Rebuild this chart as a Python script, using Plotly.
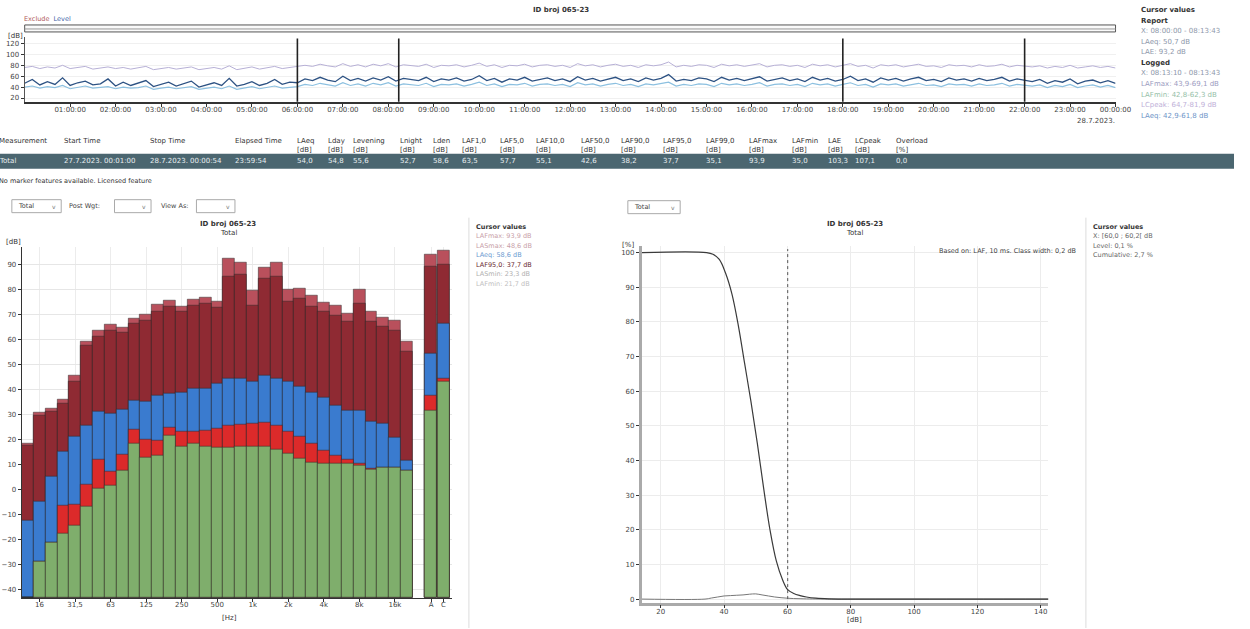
import plotly.graph_objects as go

W, H = 1250, 629
FONT = "DejaVu Sans"

# ---------------- data: time history (10-min steps, 00:00 -> 24:00) ----------------
t_hours = [i / 6 for i in range(145)]
laeq_ts = [47, 54, 44, 50, 45, 57, 43, 48, 51, 44, 46, 55, 42, 49, 43, 47, 52, 41, 45, 49,
           42, 46, 51, 40, 44, 48, 43, 56, 42, 45, 50, 43, 47, 54, 45, 49, 48,
           55, 52, 58, 53, 50, 60, 52, 56, 51, 57, 53, 59, 51, 56, 54, 52, 58, 50, 55, 53,
           57, 51, 54, 61, 52, 56, 49, 55, 53, 58, 51, 54, 57, 52, 55, 50, 59, 53, 56, 51,
           54, 58, 52, 55, 50, 57, 53, 56, 63, 51, 54, 52, 57, 55, 50, 58, 53, 56, 52, 55,
           59, 51, 54, 57, 52, 55, 50, 58, 53, 56, 51, 54, 60, 52, 55, 49, 57, 53, 56, 51,
           55, 58, 52, 54, 50, 57, 53, 55, 51, 56, 52, 54, 58, 51, 55, 53,
           50, 54, 47, 52, 49, 55, 46, 51, 53, 48, 52, 47]
lafmin_ts = [40, 42, 38, 41, 39, 43, 37, 40, 42, 38, 39, 41, 37, 40, 38, 39, 42, 36, 38, 40,
             37, 39, 41, 36, 38, 40, 37, 42, 36, 38, 41, 37, 39, 42, 38, 40, 41,
             45, 43, 47, 44, 42, 48, 43, 46, 42, 47, 44, 48, 42, 46, 45, 43, 47, 41, 45, 44,
             46, 42, 45, 49, 43, 46, 41, 45, 44, 47, 42, 45, 46, 43, 45, 41, 48, 44, 46, 42,
             45, 47, 43, 45, 41, 46, 44, 46, 49, 42, 45, 43, 46, 45, 41, 47, 44, 46, 43, 45,
             48, 42, 45, 46, 43, 45, 41, 47, 44, 46, 42, 45, 48, 43, 45, 40, 46, 44, 46, 42,
             45, 47, 43, 44, 41, 46, 44, 45, 42, 46, 43, 44, 47, 42, 45, 44,
             42, 44, 39, 43, 41, 45, 39, 42, 44, 40, 43, 39]
lafmax_ts = [76, 78, 74, 77, 75, 80, 74, 76, 78, 73, 75, 77, 74, 76, 73, 75, 78, 72, 74, 76,
             73, 75, 77, 72, 74, 76, 73, 79, 72, 74, 77, 73, 75, 78, 74, 76, 77,
             80, 78, 82, 79, 77, 83, 78, 81, 77, 82, 79, 83, 77, 81, 80, 78, 82, 76, 80, 79,
             81, 77, 80, 84, 78, 81, 76, 80, 79, 82, 77, 80, 81, 78, 80, 76, 83, 79, 81, 77,
             80, 82, 78, 80, 76, 81, 79, 81, 86, 77, 80, 78, 81, 80, 76, 82, 79, 81, 78, 80,
             83, 77, 80, 81, 78, 80, 76, 82, 79, 81, 77, 80, 83, 78, 80, 75, 81, 79, 81, 77,
             80, 82, 78, 79, 76, 81, 79, 80, 77, 81, 78, 79, 82, 77, 80, 79,
             77, 79, 75, 78, 76, 80, 75, 77, 79, 76, 78, 75]
marker_times = [6.0, 8.23, 18.0, 22.0]
time_tickvals = list(range(1, 25))
time_ticktext = ["%02d:00:00" % (h % 24) for h in range(1, 25)]

# ---------------- data: 1/3 octave spectrum ----------------
band_labels = ["12,5", "16", "20", "25", "31,5", "40", "50", "63", "80", "100", "125", "160",
               "200", "250", "315", "400", "500", "630", "800", "1k", "1,25k", "1,6k", "2k",
               "2,5k", "3,15k", "4k", "5k", "6,3k", "8k", "10k", "12,5k", "16k", "20k", "A", "C"]
band_x = list(range(33)) + [34.05, 35.1]
spec_max = [18, 30.5, 32, 35.6, 45.2, 58.8, 63.2, 65.6, 64.4, 68, 69.6, 73.6, 75.2, 72.8, 75.6,
            76.4, 74.8, 92.4, 90.8, 79.2, 88.8, 90.8, 79.6, 80, 77.2, 74.4, 73.2, 70, 79.6,
            70.8, 68.4, 67.2, 58.8, 94, 95.6]
spec_l2 = [17.5, 29.5, 31, 34, 43, 57.5, 61, 63.5, 62.5, 66, 67.5, 71, 73, 71, 73.5, 74, 72.5,
           85, 86, 73.5, 84, 85, 75, 76, 73, 71, 69.5, 67, 74, 67, 65, 63.5, 55, 89, 90]
spec_leq = [-12.8, -5.2, 4.8, 14.8, 20.8, 25.2, 30.8, 30, 31.6, 35.2, 34.8, 37.2, 38, 38.4, 40,
            40, 42, 44, 44, 42.8, 45.2, 44, 42.8, 40.8, 38.4, 36.4, 33.2, 31.2, 31.2, 26.8,
            26, 20.5, 11.2, 54, 66]
spec_l95 = [-43.6, -29.2, -21.6, -6.8, -6.4, 1.6, 11.6, 6.8, 13.6, 23.6, 19.6, 19.2, 24.4, 22.8,
            22.8, 23.2, 24, 25.2, 25.6, 26, 26.4, 25.2, 22.8, 20.8, 18, 15.2, 13.2, 11.6, 10,
            8, 8.6, 8.6, 7.5, 37.2, 44]
spec_min = [-43.6, -29.2, -21.6, -18, -14.8, -7.2, 0, 1.2, 7.2, 18, 12.4, 13.2, 21.2, 16.8, 18,
            16.8, 16.4, 16.4, 16.8, 16.8, 16.8, 15.6, 14, 12, 10.4, 10, 10, 10, 9.2, 7.6, 8.4,
            8.4, 7.2, 31.2, 42.8]
spec_tick_idx = [1, 4, 7, 10, 13, 16, 19, 22, 25, 28, 31, 33, 34]
spec_ticktext = ["16", "31,5", "63", "125", "250", "500", "1k", "2k", "4k", "8k", "16k", "A", "C"]
BASE = -43.6

# ---------------- data: statistics ----------------
cum_db = [14.0, 34.5, 36.5, 38.5, 40.5, 42.5, 44.5, 46.5, 48.5, 50.5, 52.5, 54.5, 56.5, 58.5, 60.1,
          62, 64, 66, 69, 73, 76, 142.4]
cum_pct = [100, 100, 99.5, 98, 94, 88, 79, 68, 57, 45, 32, 20, 11, 5.5, 2.7, 1.6, 1.0, 0.6, 0.25, 0.05, 0, 0]
lvl_db = [14.0, 34, 36, 38, 40, 42, 44, 46, 48, 50, 52, 54, 56, 58, 60, 62, 64, 66, 70, 74, 142.4]
lvl_pct = [0, 0, 0.3, 0.6, 0.9, 1.0, 1.1, 1.2, 1.4, 1.5, 1.2, 0.9, 0.6, 0.4, 0.25, 0.15, 0.1, 0.05, 0.02, 0, 0]
cursor_db = 60.1

# ---------------- table ----------------
tbl_head1 = ["Measurement", "Start Time", "Stop Time", "Elapsed Time", "LAeq", "Lday",
             "Levening", "Lnight", "Lden", "LAF1,0", "LAF5,0", "LAF10,0", "LAF50,0", "LAF90,0",
             "LAF95,0", "LAF99,0", "LAFmax", "LAFmin", "LAE", "LCpeak", "Overload"]
tbl_head2 = ["", "", "", "", "[dB]", "[dB]", "[dB]", "[dB]", "[dB]", "[dB]", "[dB]", "[dB]",
             "[dB]", "[dB]", "[dB]", "[dB]", "[dB]", "[dB]", "[dB]", "[dB]", "[%]"]
tbl_vals = ["Total", "27.7.2023. 00:01:00", "28.7.2023. 00:00:54", "23:59:54", "54,0", "54,8",
            "55,6", "52,7", "58,6", "63,5", "57,7", "55,1", "42,6", "38,2", "37,7", "35,1", "93,9",
            "35,0", "103,3", "107,1", "0,0"]
tbl_x = [-3, 63, 150, 236, 299, 330, 356, 403, 437, 466, 504, 541, 587, 627, 670, 713, 757, 800,
         837, 864, 906]


def px(x):
    return x / W


def py(y):
    return 1 - y / H


ann = []
shp = []


def txt(x, y, s, size=7, color="#333", bold=False, anchor="left", yanchor="middle"):
    ann.append(dict(xref="paper", yref="paper", x=px(x), y=py(y),
                    text=("<b>%s</b>" % s) if bold else s, showarrow=False,
                    xanchor=anchor, yanchor=yanchor,
                    font=dict(size=size, color=color, family=FONT)))


def rect(x0, y0, x1, y1, line="#999", fill="rgba(0,0,0,0)", lw=1):
    shp.append(dict(type="rect", xref="paper", yref="paper", x0=px(x0), x1=px(x1),
                    y0=py(y1), y1=py(y0), line=dict(color=line, width=lw), fillcolor=fill,
                    layer="below"))


def vline(x, y0, y1, color="#ccc", lw=1):
    shp.append(dict(type="line", xref="paper", yref="paper", x0=px(x), x1=px(x),
                    y0=py(y1), y1=py(y0), line=dict(color=color, width=lw)))


fig = go.Figure()

# ---- time history ----
fig.add_trace(go.Scatter(x=t_hours, y=lafmax_ts, mode="lines", line=dict(color="#b7b0d6", width=1),
                         xaxis="x", yaxis="y"))
fig.add_trace(go.Scatter(x=t_hours, y=lafmin_ts, mode="lines", line=dict(color="#8cc0e0", width=1.2),
                         xaxis="x", yaxis="y"))
fig.add_trace(go.Scatter(x=t_hours, y=laeq_ts, mode="lines", line=dict(color="#2d5283", width=1.3),
                         xaxis="x", yaxis="y"))
for mt in marker_times:
    shp.append(dict(type="line", xref="x", yref="y", x0=mt, x1=mt, y0=11, y1=129,
                    line=dict(color="#222", width=1.6)))

# ---- spectrum bars (overlaid, drawn from the bottom of the axis) ----
layers = [(spec_max, "#b9505c"), (spec_l2, "#8f2a33"), (spec_leq, "#3a7bcf"),
          (spec_l95, "#dc2a2a"), (spec_min, "#7fae6c")]
for vals, col in layers:
    fig.add_trace(go.Bar(x=band_x, y=[v - BASE for v in vals], base=BASE, width=1.0,
                         marker=dict(color=col, line=dict(color="rgba(35,35,35,0.6)", width=0.8)),
                         xaxis="x2", yaxis="y2"))

# ---- statistics ----
fig.add_trace(go.Scatter(x=lvl_db, y=lvl_pct, mode="lines", line=dict(color="#777", width=1, shape="spline"),
                         xaxis="x3", yaxis="y3"))
fig.add_trace(go.Scatter(x=cum_db, y=cum_pct, mode="lines", line=dict(color="#3a3a3a", width=1.2, shape="spline"),
                         xaxis="x3", yaxis="y3"))
shp.append(dict(type="line", xref="x3", yref="y3", x0=cursor_db, x1=cursor_db, y0=0, y1=101,
                line=dict(color="#555", width=1, dash="dot")))

tickfont = dict(size=7, color="#444", family=FONT)
fig.update_layout(
    width=W, height=H, margin=dict(l=0, r=0, t=0, b=0), paper_bgcolor="white",
    plot_bgcolor="white", showlegend=False, barmode="overlay", bargap=0,
    font=dict(family=FONT, size=7, color="#333"),
    xaxis=dict(domain=[px(25), px(1130)], range=[0, 24], anchor="y", tickvals=time_tickvals,
               ticktext=time_ticktext, tickfont=tickfont, ticks="outside", ticklen=3,
               tickcolor="#333", showline=True, linecolor="#333", linewidth=1.5,
               showgrid=False, zeroline=False, ticklabelstandoff=-3),
    yaxis=dict(domain=[py(102), py(37)], range=[13, 132], anchor="x", tickvals=[20, 40, 60, 80, 100, 120],
               tickfont=tickfont, ticks="outside", ticklen=3, tickcolor="#333", showline=True,
               linecolor="#555", showgrid=True, gridcolor="#f0f0f0", zeroline=False),
    xaxis2=dict(domain=[px(22), px(458)], range=[-0.5, 35.83], anchor="y2", tickvals=[band_x[i] for i in spec_tick_idx],
                ticktext=spec_ticktext, tickfont=tickfont, ticks="outside", ticklen=3,
                tickcolor="#333", showline=True, linecolor="#333", showgrid=True,
                gridcolor="#ececec", zeroline=False, ticklabelstandoff=-3),
    yaxis2=dict(domain=[py(599), py(247)], range=[BASE, 97], anchor="x2", tickvals=list(range(-40, 100, 10)),
                tickfont=tickfont, ticks="outside", ticklen=3, tickcolor="#333", showline=True,
                linecolor="#333", showgrid=True, gridcolor="#e6e6e6", zeroline=False),
    xaxis3=dict(domain=[px(650), px(1062)], range=[14.0, 142.4], anchor="y3",
                tickvals=[20, 40, 60, 80, 100, 120, 140], tickfont=tickfont, ticks="outside",
                ticklen=3, tickcolor="#333", showline=True, linecolor="#aaa", linewidth=2.5,
                showgrid=True, gridcolor="#ececec", zeroline=False, ticklabelstandoff=-3),
    yaxis3=dict(domain=[py(603.5), py(246)], range=[-1, 102], anchor="x3",
                tickvals=list(range(0, 101, 10)), tickfont=tickfont, ticks="outside", ticklen=3,
                tickcolor="#333", showline=True, linecolor="#aaa", linewidth=2.5, showgrid=True,
                gridcolor="#ececec", zeroline=False),
)

# ---- top area texts ----
txt(568, 10, "ID broj 065-23", size=7, bold=True, anchor="center")
ann.append(dict(xref="paper", yref="paper", x=px(22), y=py(19),
                text="<span style='color:#b05a5a'>Exclude</span>  <span style='color:#3d5fa8'>Level</span>",
                showarrow=False, xanchor="left", yanchor="middle", font=dict(size=6.5, family=FONT)))
rect(25, 25, 1130, 32, line="#555", fill="#fafafa", lw=1)
shp.append(dict(type="line", xref="paper", yref="paper", x0=px(25), x1=px(1130), y0=py(29), y1=py(29),
                line=dict(color="#999", width=1)))
txt(6, 36, "[dB]", size=7)
txt(1110, 121, "28.7.2023.", size=7, color="#444", anchor="center")

cur_top = [("Cursor values", "#333", True), ("Report", "#333", True), ("X: 08:00:00 - 08:13:43", "#8d97aa", False),
           ("LAeq: 50,7 dB", "#8d97aa", False), ("LAE: 93,2 dB", "#8d97aa", False), ("Logged", "#333", True),
           ("X: 08:13:10 - 08:13:43", "#8d97aa", False), ("LAFmax: 43,9-69,1 dB", "#9b9bc0", False),
           ("LAFmin: 42,8-62,3 dB", "#95c0a8", False), ("LCpeak: 64,7-81,9 dB", "#c0b0d8", False),
           ("LAeq: 42,9-61,8 dB", "#6e95c8", False)]
for i, (s, c, b) in enumerate(cur_top):
    txt(1154, 10 + 10.6 * i, s, size=7, color=c, bold=b)

# ---- table ----
shp.append(dict(type="rect", xref="paper", yref="paper", x0=0, x1=1, y0=py(169), y1=py(154),
                line=dict(width=0), fillcolor="#4b6670", layer="below"))
for s1, s2, x in zip(tbl_head1, tbl_head2, tbl_x):
    txt(x, 141, s1, size=7, color="#333")
    if s2:
        txt(x, 150, s2, size=7, color="#333")
for s, x in zip(tbl_vals, tbl_x):
    txt(x, 161.5, s, size=7, color="#e8eef0")
txt(-3, 181, "No marker features available. Licensed feature", size=6.5, color="#333")

# ---- dropdowns ----
rect(12, 200, 62, 213, line="#aaa", fill="white")
txt(16, 206.5, "Total", size=6.5, color="#444")
txt(55, 206.5, "v", size=6, color="#777", anchor="center")
txt(68, 206.5, "Post Wgt:", size=6.5, color="#444")
rect(116, 200, 153, 213, line="#aaa", fill="white")
txt(146, 206.5, "v", size=6, color="#777", anchor="center")
txt(161, 206.5, "View As:", size=6.5, color="#444")
rect(199, 200, 238, 213, line="#aaa", fill="white")
txt(231, 206.5, "v", size=6, color="#777", anchor="center")
rect(636, 201, 689, 214, line="#aaa", fill="white")
txt(640, 207.5, "Total", size=6.5, color="#444")
txt(682, 207.5, "v", size=6, color="#777", anchor="center")

# ---- left chart texts ----
txt(231, 224, "ID broj 065-23", size=7, bold=True, anchor="center")
txt(231, 233, "Total", size=7, anchor="center")
txt(4, 242, "[dB]", size=7)
txt(232, 619, "[Hz]", size=7, anchor="center")
vline(475, 218, 629, color="#dcdcdc")
cur_left = [("Cursor values", "#333", True), ("LAFmax: 93,9 dB", "#c8a0a8", False),
            ("LASmax: 48,6 dB", "#c8a0a8", False), ("LAeq: 58,6 dB", "#6a9ad0", False),
            ("LAF95,0: 37,7 dB", "#6a2a30", False), ("LASmin: 23,3 dB", "#b0b0b0", False),
            ("LAFmin: 21,7 dB", "#c0c0c0", False)]
for i, (s, c, b) in enumerate(cur_left):
    txt(480, 227 + 9.5 * i, s, size=6.5, color=c, bold=b)

# ---- right chart texts ----
txt(866, 224, "ID broj 065-23", size=7, bold=True, anchor="center")
txt(866, 233, "Total", size=7, anchor="center")
txt(628, 245, "[%]", size=7)
txt(866, 621, "[dB]", size=7, anchor="center")
txt(1092, 251, "Based on: LAF, 10 ms. Class width: 0,2 dB", size=6.5, color="#444", anchor="right")
vline(1100, 218, 629, color="#dcdcdc")
cur_right = [("Cursor values", "#333", True), ("X: [60,0 ; 60,2[ dB", "#666", False),
             ("Level: 0,1 %", "#666", False), ("Cumulative: 2,7 %", "#666", False)]
for i, (s, c, b) in enumerate(cur_right):
    txt(1105, 227 + 9.5 * i, s, size=6.5, color=c, bold=b)

fig.update_layout(annotations=ann, shapes=shp)
fig.write_html("out.html", config={"displayModeBar": False},
               post_script="document.body.style.margin='0px';document.body.style.overflow='hidden';")
